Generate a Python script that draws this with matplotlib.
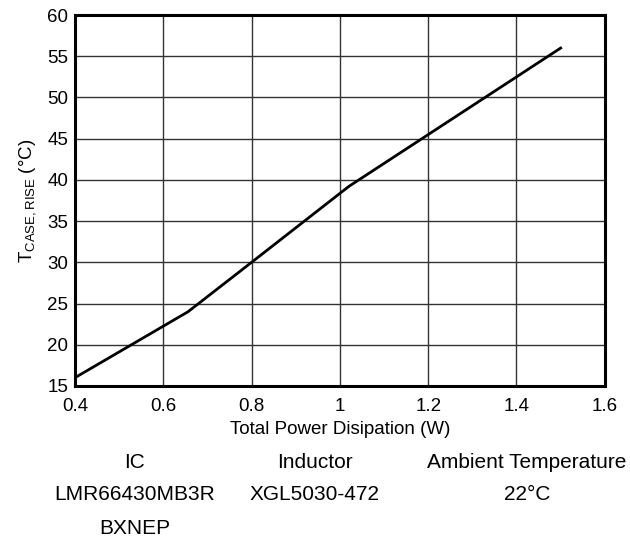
import matplotlib.pyplot as plt

plt.rcParams['font.family'] = ['Liberation Sans', 'DejaVu Sans']

# Data
power_w = [0.4, 0.656, 0.8, 1.02, 1.2, 1.5]
temp_rise = [16.0, 24.0, 30.0, 39.2, 45.5, 56.0]

x_ticks = [0.4, 0.6, 0.8, 1.0, 1.2, 1.4, 1.6]
x_tick_labels = ['0.4', '0.6', '0.8', '1', '1.2', '1.4', '1.6']
y_ticks = list(range(15, 61, 5))

# Conditions table below the chart
table_header = ['IC', 'Inductor', 'Ambient Temperature']
table_values = ['LMR66430MB3R\nBXNEP', 'XGL5030-472', '22°C']

fig = plt.figure(figsize=(6.3, 5.39), dpi=100)
ax = fig.add_axes([0.119, 0.284, 0.841, 0.688])

ax.plot(power_w, temp_rise, color='black', linewidth=2)

ax.set_xlim(0.4, 1.6)
ax.set_ylim(15, 60)
ax.set_xticks(x_ticks)
ax.set_xticklabels(x_tick_labels)
ax.set_yticks(y_ticks)
ax.tick_params(length=0, labelsize=13.5)
ax.tick_params(axis='x', pad=9)
ax.tick_params(axis='y', pad=5)

ax.grid(True, color='#333333', linewidth=1)
ax.set_axisbelow(True)
for s in ax.spines.values():
    s.set_linewidth(2.2)

ax.set_xlabel('Total Power Disipation (W)', fontsize=13.5, labelpad=4)
ax.set_ylabel(r'T$_{\mathregular{CASE,RISE}}$ (°C)', fontsize=13.5, labelpad=6)

# table text
col_x = [135 / 630, 315 / 630, 527 / 630]
for cx, h, v in zip(col_x, table_header, table_values):
    fig.text(cx, 1 - 463 / 539, h, ha='center', va='center', fontsize=15)
    for i, t in enumerate(v.split('\n')):
        fig.text(cx, 1 - (495 + 33 * i) / 539, t, ha='center', va='center', fontsize=15)

plt.savefig('out.png', dpi=100)
